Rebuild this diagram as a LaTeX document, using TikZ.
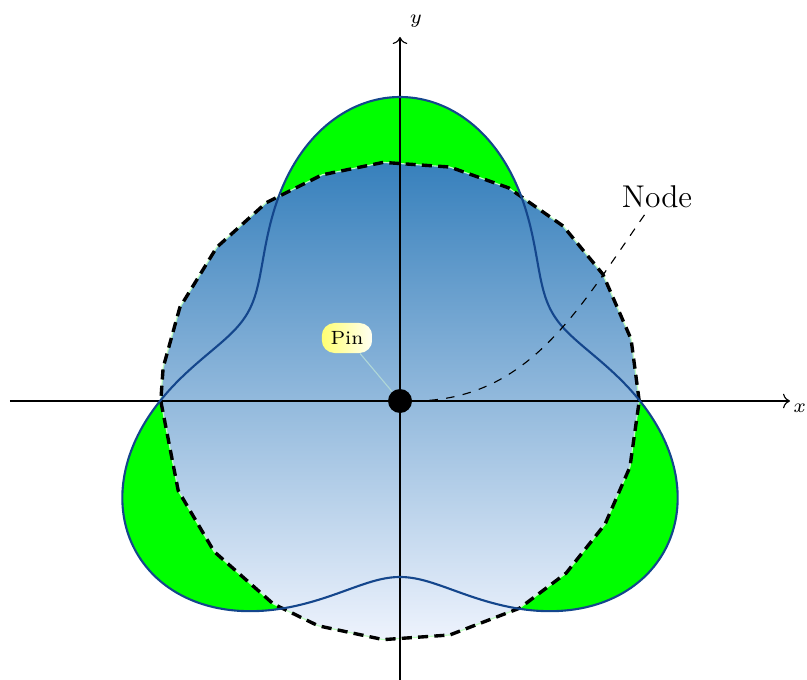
\documentclass[tikz,border=0pt]{standalone}
\usetikzlibrary{arrows.meta}
\definecolor{curveline}{RGB}{20,70,140}
\definecolor{shtop}{RGB}{55,128,188}
\definecolor{shbot}{RGB}{238,243,253}
\definecolor{pinlinec}{RGB}{175,215,215}
\begin{document}
\begin{tikzpicture}
\tikzset{
  axis/.style={->, thin, black},
  curvefill/.style={fill={rgb,255:red,0;green,255;blue,0}},
  curvedraw/.style={draw=curveline, line width=0.75pt},
  polyshade/.style={top color=shtop, bottom color=shbot, draw=green!25, thin},
  polydash/.style={draw=black, dashed, dash pattern=on 3.6pt off 2.2pt, line width=1.2pt},
  dotstyle/.style={circle, fill=black, inner sep=0pt, minimum size=0.3cm},
  pinbox/.style={rounded corners=0.16cm, left color=yellow!55, right color=yellow!5, minimum width=0.63cm, minimum height=0.375cm, inner sep=1pt, font=\fontsize{6.8}{8}\selectfont},
  pinedge/.style={draw=pinlinec, line width=0.4pt},
  bignode/.style={font=\fontsize{11.2}{13.5}\selectfont, inner sep=2pt},
  connector/.style={dashed, thin, black}
}
\useasboundingbox (-5,-3.475) rectangle (5.0875,5.0125);
% polygon vertices
\foreach \a [count=\i] in {0,15,32,47,63,78,94,109,124,140,157,172,180,202,219,238,250,266,282,300,314,329,344}
  \coordinate (v\i) at (\a:2.99);
% green curve fill
\fill[curvefill] plot[domain=0:360, samples=241, smooth] (\x:{3-0.8*sin(3*\x)}) -- cycle;
% shaded polygon
\path[polyshade] (v1)--(v2)--(v3)--(v4)--(v5)--(v6)--(v7)--(v8)--(v9)--(v10)--(v11)--(v12)--(v13)--(v14)--(v15)--(v16)--(v17)--(v18)--(v19)--(v20)--(v21)--(v22)--(v23)--cycle;
\path[polydash] (v1)--(v2)--(v3)--(v4)--(v5)--(v6)--(v7)--(v8)--(v9)--(v10)--(v11)--(v12)--(v13)--(v14)--(v15)--(v16)--(v17)--(v18)--(v19)--(v20)--(v21)--(v22)--(v23)--cycle;
% axes
\coordinate (xs) at (-4.875,0);
\coordinate (xe) at (4.875,0);
\coordinate (ys) at (0,-3.5);
\coordinate (ye) at (0,4.55);
\draw[axis] (xs) -- (xe) node[below right, font=\scriptsize, inner sep=1pt] (xl) {$x$};
\draw[axis] (ys) -- (ye) node[above right, font=\scriptsize] (yl) {$y$};
% curve outline
\draw[curvedraw] plot[domain=0:360, samples=241, smooth] (\x:{3-0.8*sin(3*\x)}) -- cycle;
% dot, pin, node
\node[dotstyle] (dot) at (0,0) {};
\node[pinbox] (pin) at (-0.6625,0.7875) {Pin};
\draw[pinedge] (pin) -- (dot);
\node[bignode] (lbl) at (3.2125,2.55) {Node};
\draw[connector] (dot) to[out=0, in=-125] (lbl);
\end{tikzpicture}
\end{document}
